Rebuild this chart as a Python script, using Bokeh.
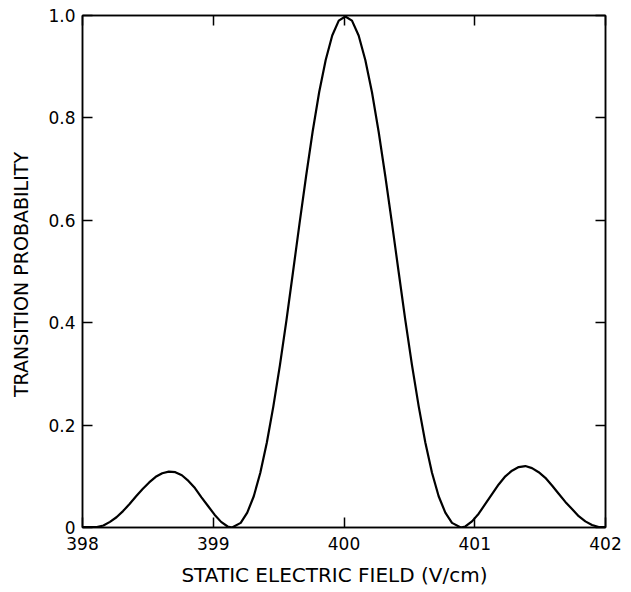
from bokeh.plotting import figure
from bokeh.models import Range1d, LinearAxis, FixedTicker, ColumnDataSource
from bokeh.embed import file_html
from bokeh.resources import INLINE

# Static electric field (V/cm) and transition probability
field = [398.00, 398.11, 398.16, 398.21, 398.26, 398.31, 398.36, 398.41, 398.46,
         398.51, 398.56, 398.61, 398.66, 398.71, 398.76, 398.81, 398.86, 398.91,
         398.96, 399.01, 399.06, 399.11, 399.144, 399.21, 399.26, 399.31, 399.36,
         399.41, 399.46, 399.51, 399.56, 399.61, 399.66, 399.71, 399.76, 399.81,
         399.86, 399.91, 399.96, 400.01,
         400.061, 400.112, 400.163, 400.214, 400.265, 400.316, 400.367, 400.418,
         400.469, 400.52, 400.571, 400.622, 400.673, 400.724, 400.775, 400.826,
         400.893, 400.928, 400.979, 401.03, 401.081, 401.132, 401.183, 401.234,
         401.285, 401.336, 401.387, 401.438, 401.489, 401.54, 401.591, 401.642,
         401.693, 401.744, 401.795, 401.846, 401.897, 401.948, 402.00]
probability = [0.001, 0.001, 0.004, 0.011, 0.020, 0.032, 0.046, 0.061, 0.075,
               0.088, 0.099, 0.106, 0.109, 0.108, 0.102, 0.091, 0.077, 0.059,
               0.042, 0.025, 0.011, 0.002, 0.000, 0.009, 0.029, 0.061, 0.107,
               0.166, 0.237, 0.317, 0.405, 0.499, 0.594, 0.686, 0.773, 0.850,
               0.913, 0.961, 0.990, 0.998,
               0.990, 0.961, 0.913, 0.850, 0.773, 0.686, 0.594, 0.499,
               0.405, 0.317, 0.237, 0.166, 0.107, 0.061, 0.029, 0.009,
               0.000, 0.002, 0.012, 0.027, 0.046, 0.065, 0.084, 0.100,
               0.111, 0.118, 0.120, 0.116, 0.108, 0.097, 0.082, 0.066,
               0.050, 0.036, 0.022, 0.012, 0.005, 0.001, 0.001]

x_ticks = [398, 399, 400, 401, 402]
x_tick_labels = {398: "398", 399: "399", 400: "400", 401: "401", 402: "402"}
y_ticks = [0, 0.2, 0.4, 0.6, 0.8, 1.0]
y_tick_labels = {0: "0", 0.2: "0.2", 0.4: "0.4", 0.6: "0.6", 0.8: "0.8", 1: "1.0"}
x_title = "STATIC  ELECTRIC  FIELD  (V/cm)"
y_title = "TRANSITION  PROBABILITY"

FONT = "DejaVu Sans"

p = figure(width=630, height=592, output_backend="svg", toolbar_location=None,
           x_range=Range1d(398, 402), y_range=Range1d(0, 1),
           min_border_left=82, min_border_right=25, min_border_top=15,
           min_border_bottom=65, x_axis_location=None, y_axis_location=None)
p.grid.visible = False
p.outline_line_color = "black"
p.outline_line_width = 1.5
p.background_fill_color = "white"
p.border_fill_color = "white"

src = ColumnDataSource(dict(x=field, y=probability))
p.line("x", "y", source=src, line_color="black", line_width=2.2,
       line_join="round")


def style(ax, labels=True):
    ax.axis_line_color = "black"
    ax.axis_line_width = 1.5
    ax.major_tick_line_color = "black"
    ax.major_tick_line_width = 1.5
    ax.major_tick_in = 10
    ax.major_tick_out = 0
    ax.minor_tick_line_color = None
    ax.major_label_text_font = FONT
    ax.major_label_text_color = "black"
    ax.major_label_text_font_size = "17px"
    ax.axis_label_text_font = FONT
    ax.axis_label_text_font_style = "normal"
    ax.axis_label_text_font_size = "19px"
    ax.axis_label_text_color = "black"
    if not labels:
        ax.major_label_text_color = None
        ax.major_label_text_font_size = "1px"
        ax.major_label_standoff = 0


bottom = LinearAxis(ticker=FixedTicker(ticks=x_ticks), axis_label=x_title,
                    major_label_overrides=x_tick_labels)
style(bottom)
bottom.axis_label_text_font_size = "20px"
bottom.major_label_standoff = 9
bottom.axis_label_standoff = 10
p.add_layout(bottom, "below")

left = LinearAxis(ticker=FixedTicker(ticks=y_ticks), axis_label=y_title,
                  major_label_overrides=y_tick_labels)
style(left)
left.major_label_standoff = 7
left.axis_label_standoff = 13
p.add_layout(left, "left")

right = LinearAxis(ticker=FixedTicker(ticks=y_ticks))
style(right, labels=False)
p.add_layout(right, "right")

top = LinearAxis(ticker=FixedTicker(ticks=x_ticks))
style(top, labels=False)
p.add_layout(top, "above")

open("out.html", "w").write(file_html(p, INLINE))
